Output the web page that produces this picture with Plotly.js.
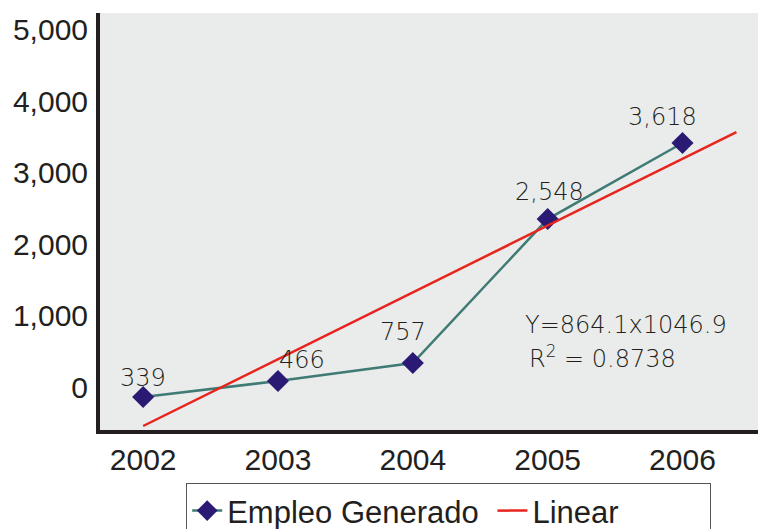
<!DOCTYPE html>
<html>
<head>
<meta charset="utf-8">
<script src="https://cdn.plot.ly/plotly-3.0.1.min.js"></script>
<style>html,body{margin:0;padding:0;background:#fff;}#chart{width:758px;height:529px;}</style>
</head>
<body>
<div id="chart"></div>
<script>
// Categories (years)
var years = [2002, 2003, 2004, 2005, 2006];
// Values printed as data labels
var empleoLabels = [339, 466, 757, 2548, 3618];
// Vertical positions of the markers as read against the (misaligned) y axis
var empleoPlotted = [-140, 84, 336, 2349, 3413];
// Linear trend line end points
var trendX = [2002, 2006.4];
var trendY = [-545, 3566];
// Y axis ticks
var yTicks = [0, 1000, 2000, 3000, 4000, 5000];
var yTickText = ['0', '1,000', '2,000', '3,000', '4,000', '5,000'];
// Trend equation text
var eqLine1 = 'Y=864.1x1046.9';
var eqLine2 = 'R<sup>2</sup> = 0.8738';

// label offsets (style, px)
var labelDx = [0, 24, -10, 2, -20];
var labelDy = [19, 21, 31, 27, 26];

function fmt(v) { return v.toLocaleString('en-US'); }

var ink = '#231f20';
var labelFont = {family: 'DejaVu Sans', size: 24, color: ink, weight: 300};

var annotations = years.map(function (yr, i) {
  return {
    x: yr, y: empleoPlotted[i], xref: 'x', yref: 'y',
    text: fmt(empleoLabels[i]), showarrow: false,
    xshift: labelDx[i], yshift: labelDy[i],
    font: labelFont, xanchor: 'center', yanchor: 'middle'
  };
});
annotations.push({
  x: 2004.82, y: 867, xref: 'x', yref: 'y', text: eqLine1, showarrow: false,
  xanchor: 'left', yanchor: 'middle', font: labelFont
});
annotations.push({
  x: 2004.85, y: 420, xref: 'x', yref: 'y', text: eqLine2, showarrow: false,
  xanchor: 'left', yanchor: 'middle', font: labelFont
});

var traces = [
  {
    type: 'scatter', mode: 'lines+markers', name: 'Empleo Generado\u00a0',
    x: years, y: empleoPlotted,
    line: {color: '#3f7b74', width: 2.5},
    marker: {symbol: 'diamond', size: 17, color: '#2b1a73'},
    cliponaxis: false
  },
  {
    type: 'scatter', mode: 'lines', name: 'Linear\u00a0\u00a0\u00a0\u00a0\u00a0\u00a0\u00a0\u00a0\u00a0\u00a0',
    x: trendX, y: trendY,
    line: {color: '#e8241e', width: 2.5}
  }
];

var layout = {
  width: 758, height: 529,
  margin: {l: 100, r: 0, t: 13, b: 99, autoexpand: false},
  paper_bgcolor: '#ffffff',
  plot_bgcolor: '#eaeceb',
  font: {family: 'Liberation Sans, Arial, sans-serif', color: ink},
  showlegend: true,
  legend: {
    orientation: 'h', x: 0.131, xanchor: 'left', y: -0.127, yanchor: 'top',
    bordercolor: '#555555', borderwidth: 1, bgcolor: '#ffffff',
    font: {family: 'Liberation Sans, Arial, sans-serif', size: 31, color: ink},
    traceorder: 'normal'
  },
  xaxis: {
    range: [2001.68, 2006.56], tickmode: 'array', tickvals: years,
    ticktext: years.map(String),
    showgrid: false, zeroline: false,
    showline: true, linecolor: ink, linewidth: 4,
    ticks: '', ticklabelstandoff: 0,
    tickfont: {size: 30, color: ink}
  },
  yaxis: {
    range: [-601, 5231], tickmode: 'array', tickvals: yTicks, ticktext: yTickText,
    showgrid: false, zeroline: false,
    showline: true, linecolor: ink, linewidth: 4,
    ticks: '', ticklabelstandoff: 2,
    tickfont: {size: 30, color: ink}
  },
  annotations: annotations
};

Plotly.newPlot('chart', traces, layout, {displayModeBar: false, staticPlot: true});
</script>
</body>
</html>
